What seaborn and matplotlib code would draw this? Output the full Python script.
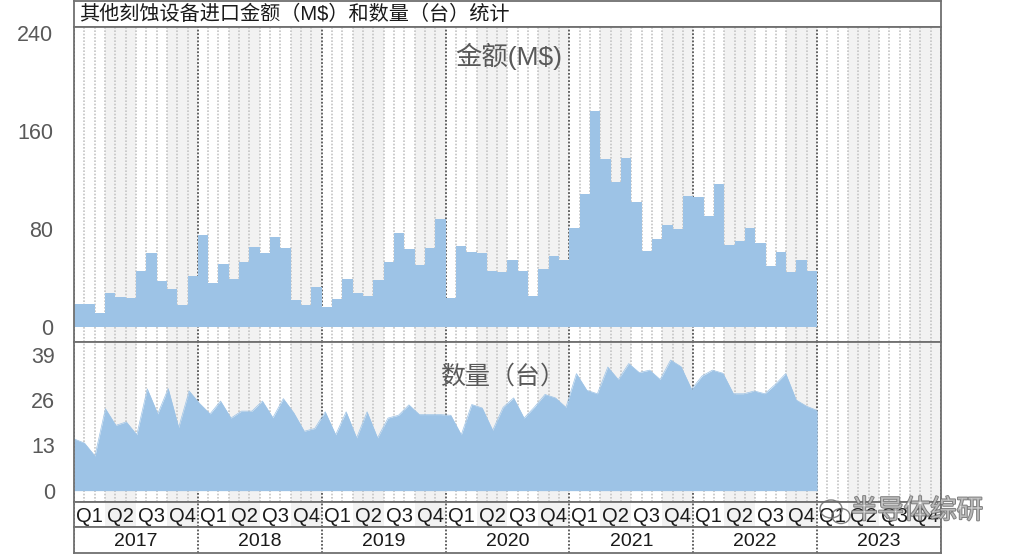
import numpy as np
import pandas as pd
import matplotlib
matplotlib.use("Agg")
import matplotlib.pyplot as plt
import matplotlib.patheffects as pe
from matplotlib.patches import Ellipse
import seaborn as sns

# ---------------- data ----------------
years = ["2017", "2018", "2019", "2020", "2021", "2022", "2023"]
quarters = ["Q1", "Q2", "Q3", "Q4"]

# monthly import amount (M$), Jan 2017 .. Dec 2022
amount = [
    18.8, 18.8, 11.2, 27.5, 24.8, 23.4, 46.0, 60.1, 37.6, 31.0, 18.0, 41.6,
    75.1, 35.7, 51.7, 39.4, 52.8, 65.6, 60.1, 73.2, 64.7, 21.8, 18.0, 32.9,
    16.0, 22.6, 39.4, 27.5, 25.6, 38.6, 53.3, 77.0, 63.9, 50.6, 64.7, 88.2,
    23.4, 66.4, 61.0, 60.1, 46.0, 45.2, 54.4, 46.0, 25.6, 47.1, 58.2, 54.7,
    80.5, 108.8, 176.0, 136.9, 118.1, 137.7, 102.3, 62.0, 72.1, 83.3, 79.7, 106.9,
    105.9, 90.9, 116.5, 66.7, 70.5, 80.5, 68.3, 49.8, 61.0, 45.2, 54.4, 46.0,
]

# monthly import quantity (units), Jan 2017 .. Dec 2022
quantity = [
    14.9, 13.7, 10.0, 23.6, 18.8, 19.8, 16.1, 29.3, 22.1, 29.4, 18.2, 28.7,
    25.1, 22.1, 25.8, 20.9, 22.9, 22.9, 25.8, 21.0, 26.5, 22.4, 17.1, 17.9,
    22.7, 16.1, 22.7, 15.2, 22.7, 15.2, 20.9, 21.7, 24.7, 21.9, 21.9, 21.9,
    21.7, 16.1, 24.8, 23.8, 17.4, 24.0, 26.7, 20.9, 24.1, 27.7, 26.7, 24.0,
    33.7, 28.9, 27.9, 35.6, 32.0, 36.6, 34.0, 34.7, 32.0, 37.6, 35.7, 29.2,
    33.0, 34.7, 33.8, 27.9, 27.9, 28.7, 27.9, 30.6, 33.7, 26.1, 24.3, 23.1,
]

amt_ticks = [0, 80, 160, 240]
qty_ticks = [0, 13, 26, 39]

title = "其他刻蚀设备进口金额（M$）和数量（台）统计"
amt_label = "金额(M$)"
qty_label = "数量（台）"
watermark = "半导体综研"

# ---------------- style ----------------
sns.set_theme(style="white")
plt.rcParams["font.family"] = ["Liberation Sans", "Noto Sans CJK SC", "DejaVu Sans"]

BLUE = "#9DC3E6"
STRIPE = "#F2F2F2"
MONTH_LINE = "#C4C4C4"
YEAR_LINE = "#555555"
FRAME = "#707070"
TICK_COLOR = "#595959"
DOT = (0, (1, 1))

W, H = 1015, 555
fig = plt.figure(figsize=(W / 100, H / 100), dpi=100)


def rect(x0, y0, x1, y1):
    return [x0 / W, 1 - y1 / H, (x1 - x0) / W, (y1 - y0) / H]


n_months = len(years) * 12

ax_t = fig.add_axes(rect(74, 1, 941, 27))
ax1 = fig.add_axes(rect(74, 27, 941, 342))
ax2 = fig.add_axes(rect(74, 342, 941, 502))
ax_q = fig.add_axes(rect(74, 502, 941, 527))
ax_y = fig.add_axes(rect(74, 527, 941, 553))


def frame(ax):
    for s in ax.spines.values():
        s.set_visible(True)
        s.set_linestyle(DOT)
        s.set_color(FRAME)
        s.set_linewidth(1.3)


def stripes(ax):
    for q in range(n_months // 3):
        if q % 2 == 1:
            ax.axvspan(q * 3, q * 3 + 3, color=STRIPE, lw=0, zorder=0)


def grid(ax, months=True):
    ax.set_xticks(np.arange(0, n_months + 1, 12))
    if months:
        ax.set_xticks(np.arange(0, n_months + 1, 1), minor=True)
        ax.grid(which="minor", axis="x", ls=DOT, color=MONTH_LINE, lw=1.2, zorder=0.5)
    ax.grid(which="major", axis="x", ls=DOT, color=YEAR_LINE, lw=1.3, zorder=0.6)
    ax.grid(which="both", axis="y", visible=False)
    ax.tick_params(axis="x", which="both", length=0, labelbottom=False)


# ---------------- title box ----------------
ax_t.set_xticks([])
ax_t.set_yticks([])
frame(ax_t)
ax_t.text(0.006, 0.47, title, transform=ax_t.transAxes, ha="left", va="center",
          fontsize=14.5, color="#1a1a1a")

# ---------------- top: amount bars ----------------
df_amt = pd.DataFrame({"month": np.arange(len(amount)) + 0.5, "amount": amount})
stripes(ax1)
sns.barplot(data=df_amt, x="month", y="amount", native_scale=True, width=1.0,
            color=BLUE, saturation=1, errorbar=None, linewidth=0, ax=ax1, zorder=2)
ax1.set_xlim(0, n_months)
ax1.set_ylim(-12.2, 244.9)
ax1.set_yticks(amt_ticks)
ax1.set_yticklabels([str(t) for t in amt_ticks])
ax1.tick_params(axis="y", length=0, pad=15, labelsize=15.5, labelcolor=TICK_COLOR)
grid(ax1)
frame(ax1)
ax1.set_xlabel("")
ax1.set_ylabel("")

# ---------------- bottom: quantity area ----------------
x_q = np.linspace(0, len(quantity), len(quantity))
df_q = pd.DataFrame({"x": x_q, "qty": quantity})
stripes(ax2)
sns.lineplot(data=df_q, x="x", y="qty", color=BLUE, lw=0.5, ax=ax2, zorder=2)
ax2.fill_between(df_q["x"], 0, df_q["qty"], color=BLUE, lw=0, zorder=2)
ax2.set_xlim(0, n_months)
ax2.set_ylim(-3.27, 42.8)
ax2.set_yticks(qty_ticks)
ax2.set_yticklabels([str(t) for t in qty_ticks])
ax2.tick_params(axis="y", length=0, pad=13.5, labelsize=15.5, labelcolor=TICK_COLOR)
grid(ax2)
frame(ax2)
ax2.set_xlabel("")
ax2.set_ylabel("")

# ---------------- category rows ----------------
for ax in (ax_q, ax_y):
    ax.set_xlim(0, n_months)
    ax.set_ylim(0, 1)
    ax.set_yticks([])
    frame(ax)
stripes(ax_q)
grid(ax_q, months=False)
grid(ax_y, months=False)
for yi, yr in enumerate(years):
    for qi, q in enumerate(quarters):
        ax_q.text(yi * 12 + qi * 3 + 1.5, 0.42, q, ha="center", va="center",
                  fontsize=14.5, color="#1a1a1a", zorder=3)
    ax_y.text(yi * 12 + 6, 0.45, yr, ha="center", va="center",
              fontsize=14, color="#1a1a1a")

# ---------------- labels ----------------
fig.text(509 / W, 1 - 56 / H, amt_label, ha="center", va="center",
         fontsize=19, color="#595959")
fig.text(503 / W, 1 - 377 / H, qty_label, ha="center", va="center",
         fontsize=18, color="#595959")

# watermark (semi-transparent outlined text + chat-bubble icon)
fig.text(917 / W, 1 - 511 / H, watermark, ha="center", va="center",
         fontsize=19, color="white", alpha=0.45, zorder=10,
         path_effects=[pe.Stroke(linewidth=1.4, foreground="#6a6a6a", alpha=0.85),
                       pe.Normal()])
for (cx, cy, ew, eh) in [(831, 509, 22, 18), (841, 516, 18, 15)]:
    fig.patches.append(Ellipse((cx / W, 1 - cy / H), ew / W, eh / H,
                               transform=fig.transFigure, facecolor="none",
                               edgecolor="#6a6a6a", lw=1.0, alpha=0.85, zorder=10))

fig.savefig("out.png", dpi=100)
